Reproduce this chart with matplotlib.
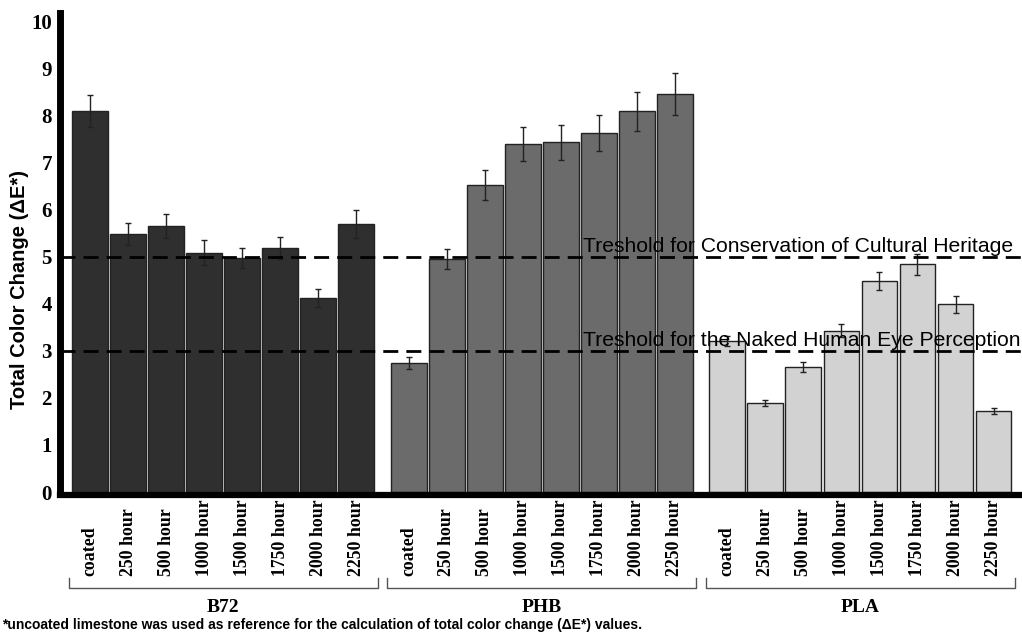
import numpy as np
import matplotlib
matplotlib.use("Agg")
import matplotlib.pyplot as plt

conditions = ['coated', '250 hour', '500 hour', '1000 hour', '1500 hour',
              '1750 hour', '2000 hour', '2250 hour']
groups = ['B72', 'PHB', 'PLA']

b72 = [8.11, 5.49, 5.66, 5.09, 4.98, 5.19, 4.13, 5.70]
b72_err = [0.34, 0.23, 0.25, 0.27, 0.21, 0.24, 0.19, 0.30]
phb = [2.75, 4.96, 6.53, 7.41, 7.44, 7.64, 8.10, 8.47]
phb_err = [0.13, 0.21, 0.32, 0.36, 0.37, 0.39, 0.41, 0.45]
pla = [3.21, 1.89, 2.66, 3.43, 4.48, 4.84, 3.99, 1.72]
pla_err = [0.10, 0.07, 0.10, 0.14, 0.19, 0.23, 0.18, 0.06]

thresholds = [5, 3]
threshold_labels = ['Treshold for Conservation of Cultural Heritage',
                    'Treshold for the Naked Human Eye Perception']

values = [b72, phb, pla]
errors = [b72_err, phb_err, pla_err]
colors = ['#2f2f2f', '#6b6b6b', '#d2d2d2']

serif = ['Liberation Serif', 'DejaVu Serif']
sans = ['Liberation Sans', 'DejaVu Sans']

fig = plt.figure(figsize=(10.22, 6.33), dpi=100)
ax = fig.add_axes([59.5 / 1022, 1 - 492 / 633, 1 - 59.5 / 1022, (492 - 13) / 633])

gap = 8.376
n = len(conditions)
for g in range(3):
    x = g * gap + np.arange(n)
    ax.bar(x, values[g], width=0.94, color=colors[g], edgecolor='#222222', linewidth=1, zorder=2)
    ax.errorbar(x, values[g], yerr=errors[g], fmt='none', ecolor='#222222',
                elinewidth=1, capsize=2.5, capthick=1, zorder=3)

    # rotated tick labels, bottom-aligned
    for xi, lab in zip(x, conditions):
        ax.text(xi, (492 - 576) / 479, lab, transform=ax.get_xaxis_transform(),
                rotation=90, ha='center', va='bottom', fontsize=12.8,
                fontweight='bold', family=serif, clip_on=False)

    # bracket under each group
    x0, x1 = x[0] - 0.56, x[-1] + 0.56
    yt, yb = (492 - 578) / 479, (492 - 588) / 479
    ax.plot([x0, x0, x1, x1], [yt, yb, yb, yt], color='#555555', lw=1,
            transform=ax.get_xaxis_transform(), clip_on=False)
    ax.text((x[0] + x[-1]) / 2, (492 - 608) / 479, groups[g],
            transform=ax.get_xaxis_transform(), ha='center', va='center',
            fontsize=14, fontweight='bold', family=serif)

for t, lab in zip(thresholds, threshold_labels):
    ax.axhline(t, color='black', lw=2, linestyle=(0, (5.4, 2.9)), zorder=4)
    ax.text(12.95, t + 0.11, lab, ha='left', va='baseline', fontsize=15.2,
            family=sans, zorder=5)

ax.set_xlim(-0.803, 24.5)
ax.set_ylim(0, 10.19)
ax.set_xticks([])
ax.set_yticks(range(0, 11))
ax.set_yticklabels([str(i) for i in range(0, 11)], fontsize=15,
                   fontweight='bold', family=serif)
ax.tick_params(axis='y', length=0, pad=5.4)

for s in ['top', 'right']:
    ax.spines[s].set_visible(False)
ax.spines['left'].set_linewidth(5)
ax.spines['bottom'].set_linewidth(4.5)
ax.spines['bottom'].set_position(('outward', 2.2))
ax.spines['left'].set_zorder(6)
ax.spines['bottom'].set_zorder(6)

fig.text(20 / 1022, 1 - 290 / 633, 'Total Color Change (ΔE*)', rotation=90,
         ha='center', va='center', fontsize=14.5, fontweight='bold', family=sans)
fig.text(2 / 1022, 1 - 629 / 633,
         '*uncoated limestone was used as reference for the calculation of total color change (ΔE*) values.',
         ha='left', va='baseline', fontsize=10, fontweight='bold', family=sans)

fig.savefig('out.png', dpi=100)
